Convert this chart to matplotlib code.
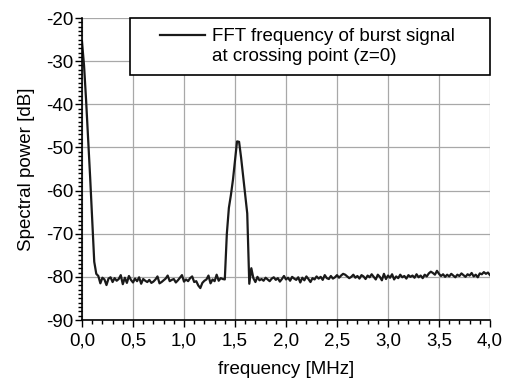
import matplotlib
matplotlib.use("Agg")
import matplotlib.pyplot as plt
import numpy as np
from matplotlib.lines import Line2D
from matplotlib.patches import Rectangle
from matplotlib.ticker import MultipleLocator

plt.rcParams['font.family'] = ['Liberation Sans', 'DejaVu Sans']

# Spectral power [dB], sampled every 0.02 MHz from 0.0 to 4.0 MHz
dc_part = [-25.5, -31, -39, -48, -57, -67, -76.5, -79.3, -79.8, -81.5, -80.2]
noise_before = [-80.6, -81.9, -80.4, -80.1, -81.2, -80.3, -80.9, -80.5, -79.6, -81.7,
                -80.2, -81.4, -79.8, -80.7, -81.3, -80.4, -81.0, -80.1, -81.6, -80.5,
                -80.9, -81.2, -80.7, -81.4, -81.1, -80.6, -79.9, -81.5, -81.2, -80.8,
                -80.4, -79.7, -81.0, -80.7, -80.5, -81.3, -80.8, -80.2, -79.6, -81.1,
                -80.6, -81.0, -80.3, -79.9, -81.2, -81.0, -82.0, -82.6, -81.4, -80.9,
                -80.6, -79.7, -81.5, -80.6, -81.0, -79.5, -80.9, -80.3, -80.5]
burst_peak = [-80.6, -70, -64, -61, -57.5, -53, -48.6, -48.7, -52.4, -56.7,
              -61, -65.3, -81.6, -78]
noise_after = [-80.3, -81.2, -80.0, -80.8, -80.5, -80.9, -80.2, -80.6, -81.0, -80.4,
               -80.1, -80.7, -80.3, -81.1, -80.5, -79.8, -80.6, -80.2, -80.9, -80.0,
               -80.4, -80.7, -80.1, -81.3, -80.2, -80.8, -79.9, -80.5, -81.2, -80.3,
               -80.6, -79.9, -80.4, -80.0, -80.7, -79.6, -80.3, -80.5, -79.8, -80.4,
               -80.1, -79.6, -80.2, -79.7, -79.3, -79.5, -79.9, -80.3, -80.0, -79.5,
               -80.2, -79.8, -80.4, -79.6, -79.9, -80.5, -79.7, -80.1, -79.4, -80.0,
               -80.6, -79.5, -80.0, -80.8, -79.3, -80.5, -79.7, -80.2, -79.4, -80.6,
               -79.9, -80.3, -79.5, -80.1, -79.8, -80.4, -79.6, -80.0, -79.7, -80.2,
               -79.4, -80.1, -79.7, -80.3, -79.5, -79.9, -79.2, -78.8, -79.1, -79.5,
               -78.6, -79.3, -79.8, -79.4, -80.0, -79.5, -79.9, -79.3, -79.7, -80.1,
               -79.5, -79.8, -79.2, -79.6, -80.0, -79.4, -79.7, -79.1, -79.9, -79.5,
               -80.1, -79.2, -79.4, -78.9, -79.3, -79.0, -79.6]
power_db = dc_part + noise_before + burst_peak + noise_after
freq_mhz = np.linspace(0.0, 4.0, len(power_db))

x_ticks = [0.0, 0.5, 1.0, 1.5, 2.0, 2.5, 3.0, 3.5, 4.0]
x_tick_labels = ["0,0", "0,5", "1,0", "1,5", "2,0", "2,5", "3,0", "3,5", "4,0"]
y_ticks = [-90, -80, -70, -60, -50, -40, -30, -20]
y_tick_labels = ["-90", "-80", "-70", "-60", "-50", "-40", "-30", "-20"]
legend_lines = ["FFT frequency of burst signal", "at crossing point (z=0)"]

fig = plt.figure(figsize=(5.10, 3.81), dpi=100)
ax = fig.add_axes([82/510, 1-320/381, 408/510, 302/381])

ax.plot(freq_mhz, power_db, color="#1a1a1a", lw=1.6, zorder=3)

ax.set_xlim(0, 4)
ax.set_ylim(-90, -20)
ax.set_xticks(x_ticks)
ax.set_xticklabels(x_tick_labels)
ax.set_yticks(y_ticks)
ax.set_yticklabels(y_tick_labels)
ax.xaxis.set_minor_locator(MultipleLocator(0.1))
ax.yaxis.set_minor_locator(MultipleLocator(1))
ax.tick_params(axis="both", which="major", direction="out", length=5, width=1,
               labelsize=13.5, color="black")
ax.tick_params(axis="y", which="major", pad=1)
ax.tick_params(axis="x", which="major", pad=4)
ax.tick_params(axis="both", which="minor", direction="out", length=3, width=1, color="black")
ax.grid(True, which="major", color="#a8a8a8", lw=0.9)
ax.set_axisbelow(True)
for s in ["top", "right"]:
    ax.spines[s].set_visible(False)
for s in ["left", "bottom"]:
    ax.spines[s].set_linewidth(1.2)
    ax.spines[s].set_zorder(4)

ax.set_xlabel("frequency [MHz]", fontsize=13.5, labelpad=8)
ax.set_ylabel("Spectral power [dB]", fontsize=13.5, labelpad=8)

# legend box
rect = Rectangle((48/408, (320-75)/302), 1-48/408, 1-(320-75)/302,
                 transform=ax.transAxes, facecolor="white", edgecolor="black",
                 lw=1.2, zorder=5, clip_on=False)
ax.add_patch(rect)
handles = [Line2D([], [], color="#1a1a1a", lw=1.6),
           Line2D([], [], color="none", lw=0)]
leg = ax.legend(handles, legend_lines, loc="center",
                bbox_to_anchor=(0.553, (320-46.5)/302), frameon=False,
                fontsize=13.5, handlelength=2.4, handletextpad=0.4,
                labelspacing=0.12, borderpad=0)
leg.set_zorder(6)

fig.savefig("out.png", dpi=100)
